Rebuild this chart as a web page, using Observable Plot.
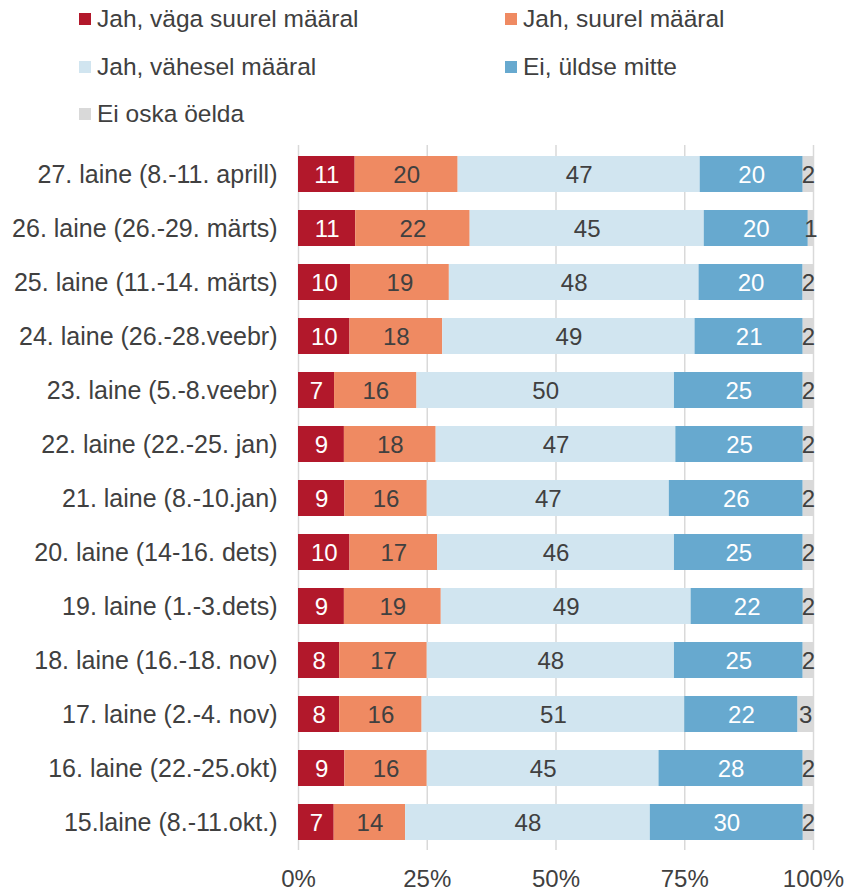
<!DOCTYPE html>
<html>
<head>
<meta charset="utf-8">
<script src="https://cdn.jsdelivr.net/npm/d3@7"></script>
<script src="https://cdn.jsdelivr.net/npm/@observablehq/plot@0.6"></script>
<style>
  html, body { margin: 0; padding: 0; background: #fff; }
  body { width: 845px; height: 891px; overflow: hidden; font-family: "Liberation Sans", Arial, sans-serif; color: #404040; }
  #legend { position: relative; height: 140px; font-size: 24.5px; }
  .item { position: absolute; height: 28px; display: flex; align-items: center; white-space: nowrap; }
  .sw { width: 12px; height: 12px; margin-right: 6px; flex: none; }
  #chart svg { display: block; }
</style>
</head>
<body>
<div id="legend"></div>
<div id="chart"></div>
<script>
// ---- data ----
const waves = [
  "27. laine (8.-11. aprill)",
  "26. laine (26.-29. märts)",
  "25. laine (11.-14. märts)",
  "24. laine (26.-28.veebr)",
  "23. laine (5.-8.veebr)",
  "22. laine (22.-25. jan)",
  "21. laine (8.-10.jan)",
  "20. laine (14-16. dets)",
  "19. laine (1.-3.dets)",
  "18. laine (16.-18. nov)",
  "17. laine (2.-4. nov)",
  "16. laine (22.-25.okt)",
  "15.laine (8.-11.okt.)"
];
const categories = [
  "Jah, väga suurel määral",
  "Jah, suurel määral",
  "Jah, vähesel määral",
  "Ei, üldse mitte",
  "Ei oska öelda"
];
const veryLarge = [11, 11, 10, 10, 7, 9, 9, 10, 9, 8, 8, 9, 7];
const large     = [20, 22, 19, 18, 16, 18, 16, 17, 19, 17, 16, 16, 14];
const small     = [47, 45, 48, 49, 50, 47, 47, 46, 49, 48, 51, 45, 48];
const notAtAll  = [20, 20, 20, 21, 25, 25, 26, 25, 22, 25, 22, 28, 30];
const dontKnow  = [2, 1, 2, 2, 2, 2, 2, 2, 2, 2, 3, 2, 2];
const xTicks = [0, 0.25, 0.5, 0.75, 1];

// ---- styles ----
const colors = ["#b2182b", "#ef8a62", "#d1e5f0", "#67a9cf", "#d9d9d9"];
const labelColors = ["#ffffff", "#404040", "#404040", "#ffffff", "#404040"];
const textColor = "#404040";

const series = [veryLarge, large, small, notAtAll, dontKnow];
const data = [];
waves.forEach((w, i) => {
  categories.forEach((c, j) => data.push({wave: w, cat: c, value: series[j][i]}));
});

// legend
const legendPos = [[79, 5], [505, 5], [79, 53], [505, 53], [79, 100]];
const legend = document.getElementById("legend");
categories.forEach((c, j) => {
  const d = document.createElement("div");
  d.className = "item";
  d.style.left = legendPos[j][0] + "px";
  d.style.top = legendPos[j][1] + "px";
  d.innerHTML = `<span class="sw" style="background:${colors[j]}"></span><span>${c}</span>`;
  legend.appendChild(d);
});

const stackOpts = {x: "value", y: "wave", z: "cat", offset: "normalize", order: categories};

const chart = Plot.plot({
  width: 845,
  height: 751,
  marginTop: 5,
  marginBottom: 41,
  marginLeft: 298,
  marginRight: 32,
  style: {fontSize: "24px", fontFamily: "'Liberation Sans', Arial, sans-serif", color: textColor, background: "white"},
  x: {domain: [0, 1], ticks: xTicks, tickFormat: d3.format(".0%"), tickSize: 0, tickPadding: 19, label: null},
  y: {domain: waves, paddingInner: 0.336, paddingOuter: 0.168, tickSize: 0, tickPadding: 21, label: null},
  color: {domain: categories, range: colors},
  marks: [
    Plot.ruleX(xTicks, {stroke: "#d9d9d9", strokeWidth: 1.5}),
    Plot.barX(data, Plot.stackX({...stackOpts, fill: "cat"})),
    Plot.textX(data, Plot.stackX({
      ...stackOpts,
      text: "value",
      fill: d => labelColors[categories.indexOf(d.cat)],
      fontSize: 24,
      dy: 1
    }))
  ]
});
chart.querySelectorAll('g[aria-label="y-axis tick label"] text, g[aria-label="y-axis tick label"]').forEach(el => el.setAttribute("font-size", "25"));
document.getElementById("chart").appendChild(chart);
</script>
</body>
</html>
